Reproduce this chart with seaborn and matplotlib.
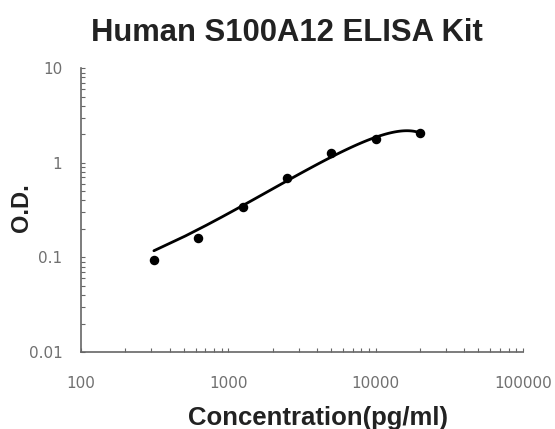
import numpy as np
import pandas as pd
import matplotlib
matplotlib.use("Agg")
import matplotlib.pyplot as plt
import matplotlib.ticker as mticker
import seaborn as sns

# ------------------------------
# Standard curve data
# ------------------------------
concentration = [312.5, 625, 1250, 2500, 5000, 10000, 20000]
od_values = [0.094, 0.159, 0.339, 0.685, 1.26, 1.77, 2.09]

std_df = pd.DataFrame({"conc": concentration, "od": od_values})

# ------------------------------
# Plot
# ------------------------------
sns.set_style("white")
plt.rcParams["font.family"] = ["Liberation Sans", "DejaVu Sans"]

fig = plt.figure(figsize=(5.55, 4.29), dpi=100)
ax = fig.add_axes([0.146, 0.1795, 0.796, 0.6615])

# polynomial (order 2) trend line like the kit datasheet
sns.regplot(data=std_df, x="conc", y="od", order=2, ci=None, ax=ax,
            scatter_kws={"color": "black", "edgecolor": "black", "s": 34, "alpha": 1, "zorder": 3},
            line_kws={"color": "black", "linewidth": 2})

ax.set_xscale("log")
ax.set_yscale("log")
ax.set_xlim(100, 100000)
ax.set_ylim(0.01, 10)

ax.xaxis.set_major_locator(mticker.LogLocator(base=10))
ax.yaxis.set_major_locator(mticker.LogLocator(base=10))
ax.xaxis.set_minor_locator(mticker.LogLocator(base=10, subs=np.arange(2, 10)))
ax.yaxis.set_minor_locator(mticker.LogLocator(base=10, subs=np.arange(2, 10)))
ax.xaxis.set_major_formatter(mticker.FuncFormatter(lambda v, p: f"{v:g}"))
ax.yaxis.set_major_formatter(mticker.FuncFormatter(lambda v, p: f"{v:g}"))
ax.xaxis.set_minor_formatter(mticker.NullFormatter())
ax.yaxis.set_minor_formatter(mticker.NullFormatter())

ax.tick_params(axis="both", which="both", direction="in", length=3, width=0.8,
               color="#666666", bottom=True, left=True,
               labelsize=11, labelcolor="#707070")
ax.tick_params(axis="x", which="major", pad=17)
ax.tick_params(axis="y", which="major", pad=13.5)
for lab in ax.get_xticklabels() + ax.get_yticklabels():
    lab.set_family("DejaVu Sans")

for side in ["top", "right"]:
    ax.spines[side].set_visible(False)
for side in ["left", "bottom"]:
    ax.spines[side].set_color("#666666")
    ax.spines[side].set_linewidth(1.2)

ax.set_xlabel("Concentration(pg/ml)", fontsize=18.5, fontweight="bold", color="#222222")
ax.set_ylabel("O.D.", fontsize=17, fontweight="bold", color="#222222")
ax.xaxis.set_label_coords(0.536, -0.19)
ax.yaxis.set_label_coords(-0.108, 0.51)

fig.text(0.517, 0.923, "Human S100A12 ELISA Kit", ha="center", va="center",
         fontsize=22.3, fontweight="bold", color="#222222")

fig.savefig("out.png", dpi=100)
